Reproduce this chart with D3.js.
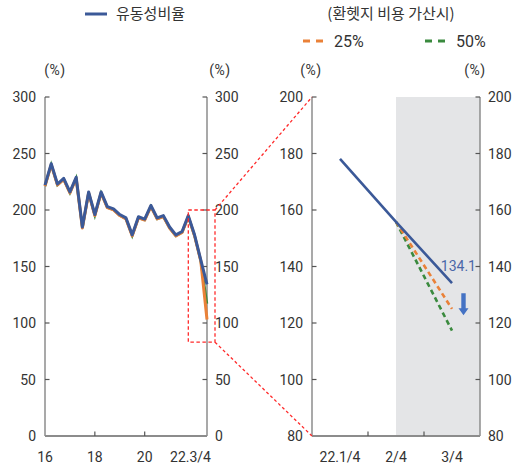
<!DOCTYPE html>
<html>
<head>
<meta charset="utf-8">
<script src="https://cdn.jsdelivr.net/npm/d3@7"></script>
<style>
  html, body { margin: 0; padding: 0; background: #fff; }
  svg { display: block; font-family: Roboto, "Noto Sans", sans-serif; }
  .kr { font-family: "Noto Sans CJK KR", "Noto Sans", sans-serif; }
</style>
</head>
<body>
<svg id="chart" width="515" height="465"></svg>
<script>
// Liquidity ratio, quarterly 2016Q1–2021Q4, then monthly (4th week) 2022
const quarterValues = [222, 241, 223, 228, 216, 229, 185, 216, 196, 216, 203, 201,
                       196, 193, 178, 194, 192, 204, 193, 195, 185, 178, 181, 195];
const weekly2022 = [178.1, 155.8, 134.1];
// Long-range view: hedge-cost scenarios for the final point
const longEnd25 = 104;
const longEnd50 = 118;

// Zoomed view
const zoomCategories = ["22.1/4", "2/4", "3/4"];
const zoomBase = [178.1, 155.8, 134.1];
const zoom25 = [null, 155.8, 125.0];
const zoom50 = [null, 155.8, 117.3];

const leftTicksY = [0, 50, 100, 150, 200, 250, 300];
const rightTicksY = [80, 100, 120, 140, 160, 180, 200];
const leftTickLabels = ["16", "18", "20", "22.3/4"];
const leftTickIndex = [0, 8, 16, 26];

const BLUE = "#3b5998";
const ORANGE = "#ea8138";
const GREEN = "#3a8a3e";
const RED = "#ff2a2a";
const AXIS = "#8c8c8c";
const TEXT = "#333";

const svg = d3.select("#chart");

// ---------- scales ----------
const yTop = 97, yBottom = 436;
const xL = d3.scaleLinear().domain([0, 26]).range([45, 207]);
const yL = d3.scaleLinear().domain([0, 300]).range([yBottom, yTop]);
const xR = d3.scaleBand().domain(zoomCategories).range([312, 480]).padding(0);
const yR = d3.scaleLinear().domain([80, 200]).range([yBottom, yTop]);
const cx = c => xR(c) + xR.bandwidth() / 2;

// ---------- shaded forecast region ----------
svg.append("rect")
  .attr("x", cx("2/4")).attr("y", yTop)
  .attr("width", 480 - cx("2/4")).attr("height", yBottom - yTop)
  .attr("fill", "#e4e5e7");

// ---------- axes helper ----------
function yAxis(scale, x, ticks, side) {
  const g = svg.append("g");
  g.append("line").attr("x1", x).attr("x2", x).attr("y1", yTop).attr("y2", yBottom)
    .attr("stroke", AXIS).attr("stroke-width", 1.5);
  const inward = side === "left" ? 1 : -1;
  ticks.forEach(t => {
    g.append("line").attr("x1", x).attr("x2", x + inward * 4.5)
      .attr("y1", scale(t)).attr("y2", scale(t))
      .attr("stroke", "#555").attr("stroke-width", 1.2);
    g.append("text")
      .attr("x", side === "left" ? x - 9 : x + 8)
      .attr("y", scale(t)).attr("dy", "0.36em")
      .attr("text-anchor", side === "left" ? "end" : "start")
      .attr("font-size", 14).attr("fill", TEXT).text(t);
  });
}

yAxis(yL, xL(0), leftTicksY, "left");
yAxis(yL, xL(26), leftTicksY, "right");
yAxis(yR, 312, rightTicksY, "left");
yAxis(yR, 480, rightTicksY, "right");

// bottom axes
svg.append("line").attr("x1", xL(0)).attr("x2", xL(26)).attr("y1", yBottom).attr("y2", yBottom)
  .attr("stroke", AXIS).attr("stroke-width", 2);
svg.append("line").attr("x1", 312).attr("x2", 480).attr("y1", yBottom).attr("y2", yBottom)
  .attr("stroke", AXIS).attr("stroke-width", 2);

leftTickLabels.forEach((lab, i) => {
  const idx = leftTickIndex[i];
  if (i > 0 && i < leftTickLabels.length - 1) {
    svg.append("line").attr("x1", xL(idx)).attr("x2", xL(idx))
      .attr("y1", yBottom).attr("y2", yBottom - 4.5).attr("stroke", "#555").attr("stroke-width", 1.2);
  }
  const last = i === leftTickLabels.length - 1;
  svg.append("text")
    .attr("x", last ? xL(idx) + 4 : xL(idx)).attr("y", 462)
    .attr("text-anchor", last ? "end" : "middle")
    .attr("font-size", 14).attr("fill", TEXT).text(lab);
});

zoomCategories.forEach((c, i) => {
  if (i > 0) {
    svg.append("line").attr("x1", xR(c)).attr("x2", xR(c))
      .attr("y1", yBottom).attr("y2", yBottom - 4.5).attr("stroke", "#555").attr("stroke-width", 1.2);
  }
  svg.append("text").attr("x", cx(c)).attr("y", 462)
    .attr("text-anchor", "middle").attr("font-size", 14).attr("fill", TEXT).text(c);
});

// unit labels
[55, 220, 311, 475].forEach(x => {
  svg.append("text").attr("x", x).attr("y", 75).attr("text-anchor", "middle")
    .attr("font-size", 14).attr("letter-spacing", 0.6).attr("fill", TEXT).text("(%)");
});

// ---------- long-range series ----------
const longBase = quarterValues.concat(weekly2022).map((v, i) => [i, v]);
const longS25 = longBase.slice(0, 26).concat([[26, longEnd25]]);
const longS50 = longBase.slice(0, 26).concat([[26, longEnd50]]);
const lineL = d3.line().x(d => xL(d[0])).y(d => yL(d[1]));

svg.append("path").datum(longS50).attr("d", lineL)
  .attr("fill", "none").attr("stroke", GREEN).attr("stroke-width", 2.5)
  .attr("transform", "translate(0,1)");
svg.append("path").datum(longS25).attr("d", lineL)
  .attr("fill", "none").attr("stroke", ORANGE).attr("stroke-width", 3)
  .attr("stroke-linejoin", "round").attr("transform", "translate(0,1)");
svg.append("path").datum(longBase).attr("d", lineL)
  .attr("fill", "none").attr("stroke", BLUE).attr("stroke-width", 3)
  .attr("stroke-linejoin", "round");

// ---------- zoom indicator ----------
const zx0 = xL(23), zx1 = xL(26) + 8;
const zyTop = yL(200), zyBot = yL(83);
svg.append("rect").attr("x", zx0).attr("y", zyTop)
  .attr("width", zx1 - zx0).attr("height", zyBot - zyTop)
  .attr("fill", "none").attr("stroke", RED).attr("stroke-width", 1.3)
  .attr("stroke-dasharray", "3.5,2.5");
svg.append("line").attr("x1", zx1).attr("y1", zyTop).attr("x2", 312).attr("y2", yTop)
  .attr("stroke", RED).attr("stroke-width", 1.3).attr("stroke-dasharray", "3,2.5");
svg.append("line").attr("x1", zx1).attr("y1", zyBot).attr("x2", 312).attr("y2", yBottom)
  .attr("stroke", RED).attr("stroke-width", 1.3).attr("stroke-dasharray", "3,2.5");

// ---------- zoomed series ----------
const lineR = d3.line().defined(d => d[1] != null).x(d => cx(d[0])).y(d => yR(d[1]));
svg.append("path").datum(zoomCategories.map((c, i) => [c, zoom50[i]])).attr("d", lineR)
  .attr("fill", "none").attr("stroke", GREEN).attr("stroke-width", 2.6).attr("stroke-dasharray", "5,3.5");
svg.append("path").datum(zoomCategories.map((c, i) => [c, zoom25[i]])).attr("d", lineR)
  .attr("fill", "none").attr("stroke", ORANGE).attr("stroke-width", 2.6).attr("stroke-dasharray", "5,3.5");
svg.append("path").datum(zoomCategories.map((c, i) => [c, zoomBase[i]])).attr("d", lineR)
  .attr("fill", "none").attr("stroke", BLUE).attr("stroke-width", 2.6);

// value label
const lastVal = zoomBase[zoomBase.length - 1];
svg.append("text").attr("x", 476).attr("y", yR(lastVal) - 17).attr("dy", "0.36em")
  .attr("text-anchor", "end").attr("font-size", 14).attr("fill", "#4a67a8")
  .text(lastVal.toFixed(1));

// downward arrow
const ax = 463.5, ay0 = yR(lastVal) + 10, ay1 = yR(lastVal) + 32;
svg.append("path")
  .attr("d", `M${ax - 2.2},${ay0} L${ax + 2.2},${ay0} L${ax + 2.2},${ay1 - 7} L${ax + 5},${ay1 - 7} L${ax},${ay1} L${ax - 5},${ay1 - 7} L${ax - 2.2},${ay1 - 7} Z`)
  .attr("fill", "#4472c4");

// ---------- legends ----------
svg.append("line").attr("x1", 85).attr("x2", 107).attr("y1", 14).attr("y2", 14)
  .attr("stroke", BLUE).attr("stroke-width", 3);
svg.append("text").attr("class", "kr").attr("x", 116).attr("y", 14).attr("dy", "0.36em")
  .attr("font-size", 15).attr("fill", TEXT).text("유동성비율");

svg.append("text").attr("class", "kr").attr("x", 391).attr("y", 14).attr("dy", "0.36em")
  .attr("text-anchor", "middle").attr("font-size", 15).attr("fill", TEXT).text("(환헷지 비용 가산시)");

[[303, ORANGE, "25%"], [425, GREEN, "50%"]].forEach(([x, col, lab]) => {
  svg.append("line").attr("x1", x).attr("x2", x + 22).attr("y1", 41).attr("y2", 41)
    .attr("stroke", col).attr("stroke-width", 3).attr("stroke-dasharray", "7,6");
  svg.append("text").attr("x", x + 31).attr("y", 41).attr("dy", "0.36em")
    .attr("font-size", 16).attr("fill", TEXT).text(lab);
});
</script>
</body>
</html>
